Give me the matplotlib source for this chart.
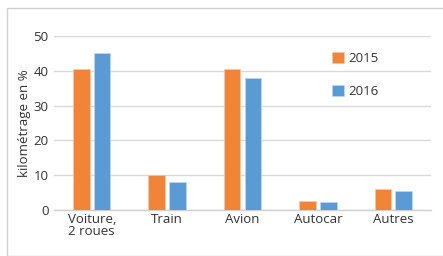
import matplotlib
matplotlib.use("Agg")
import matplotlib.pyplot as plt
import numpy as np
from matplotlib.patches import Rectangle

categories = ["Voiture,\n2 roues", "Train", "Avion", "Autocar", "Autres"]
v2015 = [40.5, 10.0, 40.5, 2.5, 6.0]
v2016 = [45.0, 8.0, 37.8, 2.3, 5.5]
series_labels = ["2015", "2016"]

plt.rcParams['font.family'] = ['Open Sans', 'DejaVu Sans']

fig = plt.figure(figsize=(4.43, 2.56), dpi=100)
fig.patches.append(Rectangle((7/443, 0), 1.0, 1 - 8/256, transform=fig.transFigure,
                             fill=False, edgecolor='#d0d0d0', linewidth=1.0))
ax = fig.add_axes([54/443, 46/256, 377/443, 174/256])

x = np.arange(len(categories))
w = 0.22
gap = 0.055
orange = '#F08437'
blue = '#5B9BD5'
ax.bar(x - (w + gap) / 2, v2015, w, color=orange, edgecolor='#f8c8a8', linewidth=0.5,
       label=series_labels[0], zorder=3)
ax.bar(x + (w + gap) / 2, v2016, w, color=blue, edgecolor='#c0d8ee', linewidth=0.5,
       label=series_labels[1], zorder=3)

fs = 9.5
ax.set_xlim(-0.5, len(categories) - 0.5)
ax.set_ylim(0, 50)
ax.set_yticks([0, 10, 20, 30, 40, 50])
ax.set_xticks(x)
ax.set_xticklabels(categories, fontsize=fs, color='#333333', linespacing=0.9)
ax.tick_params(axis='y', labelsize=fs, colors='#333333', length=0, pad=4)
ax.tick_params(axis='x', length=0, pad=2)
ax.yaxis.grid(True, color='#d9d9d9', linewidth=1.0, zorder=0)
ax.set_axisbelow(True)
for s in ['top', 'right', 'left']:
    ax.spines[s].set_visible(False)
ax.spines['bottom'].set_color('#d0d0d0')
ax.spines['bottom'].set_linewidth(1.0)

ax.set_ylabel("kilométrage en %", fontsize=fs, color='#333333', labelpad=2)

ax.legend(loc='upper left', bbox_to_anchor=(0.738, 0.91), frameon=False, fontsize=fs,
          handlelength=0.9, handleheight=0.9, handletextpad=0.3, labelspacing=1.55,
          labelcolor='#333333', borderaxespad=0, borderpad=0)

fig.savefig("out.png", dpi=100)
